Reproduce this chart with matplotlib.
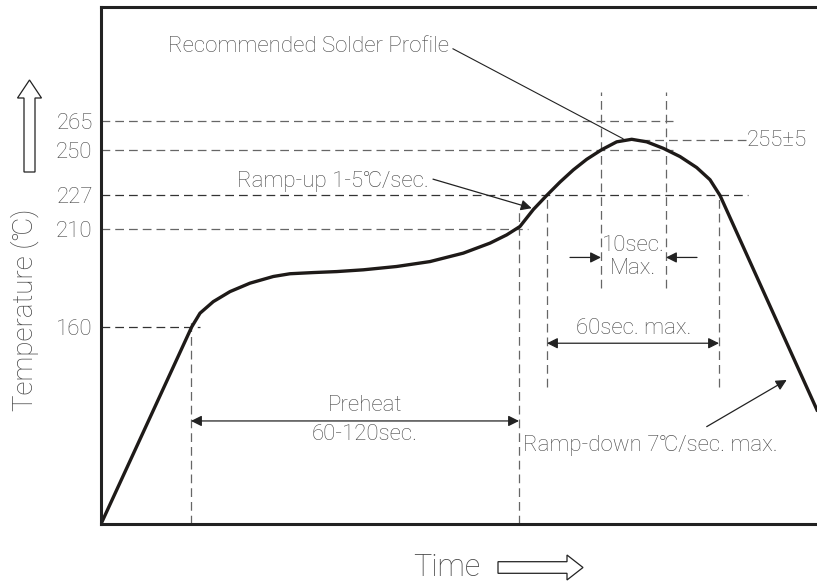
import matplotlib.pyplot as plt
import matplotlib.patches as mpatches
from matplotlib.transforms import Affine2D

plt.rcParams['font.family'] = ['Roboto', 'DejaVu Sans']

# profile curve (time in arbitrary units, temperature in degC)
time_pts = [0, 90.7, 99, 112.3, 129, 149, 172.3, 189, 212.3, 235.7, 262.3, 295.7,
            329, 362.3, 389, 405.7, 419, 432.3, 445.7, 459, 472.3, 485.7, 500.7,
            515.7, 530.7, 545.7, 562.3, 579, 595.7, 609, 619, 716]
temp_pts = [59.6, 160, 167.0, 172.9, 178.0, 182.3, 185.7, 187.1, 187.7, 188.2,
            189.1, 190.8, 193.3, 197.6, 202.7, 206.9, 211.2, 219.8, 227, 233.8,
            240, 245.4, 250.3, 254.3, 255.6, 254.3, 251.0, 246.8, 241.2, 235,
            227, 117.7]

tick_temps = [160, 210, 227, 250, 265]
# horizontal guide lines: temperature, start, end
hlines = [(265, 0, 572), (250, 0, 572), (227, 0, 647), (210, 0, 427),
          (160, 0, 99), (255, 540, 645)]
# vertical guide lines: time, bottom temp, top temp
vlines = [(90, 59.6, 164), (418, 59.6, 219.7), (446, 129.6, 227), (618, 129.6, 227),
          (500, 179.8, 279.8), (565, 179.8, 279.8)]

gray = '#484848'
fig = plt.figure(figsize=(8.17, 5.85), dpi=100)
ax = fig.add_axes([101 / 817, 61 / 585, 719 / 817, 517 / 585])
ax.set_xlim(0, 719)
ax.set_ylim(59.6, 323)

for sp in ax.spines.values():
    sp.set_linewidth(2.2)
    sp.set_color('#222222')

ax.set_xticks([])
ax.set_yticks(tick_temps)
ax.set_yticklabels([str(t) for t in tick_temps])
ax.tick_params(axis='y', length=0, pad=6, labelsize=16, labelcolor=gray)
for lab in ax.get_yticklabels():
    lab.set_fontweight('light')

for T, x0, x1 in hlines:
    c = '#333333' if T in (227, 160) else '#666666'
    ax.plot([x0, x1], [T, T], color=c, lw=0.9, ls=(0, (7, 4)))
for t, y0, y1 in vlines:
    ax.plot([t, t], [y0, y1], color='#666666', lw=0.9, ls=(0, (7, 4)))

ax.plot(time_pts, temp_pts, color='#1e1a18', lw=2.4, solid_joinstyle='round')

fs = 16
txt = dict(fontsize=fs, color=gray, fontweight='light')
ap_one = dict(arrowstyle='-|>', color='#222222', lw=0.9, mutation_scale=16,
              shrinkA=0, shrinkB=0)
ap_two = dict(arrowstyle='<|-|>', color='#222222', lw=0.9, mutation_scale=16,
              shrinkA=0, shrinkB=0)

# recommended profile leader
ax.text(207, 302.8, 'Recommended Solder Profile', ha='center', va='center', **txt)
ax.plot([352, 522], [301.7, 255.9], color='#222222', lw=0.8)

# ramp-up
ax.text(136, 234, 'Ramp-up 1-5℃/sec.', ha='left', va='center', **txt)
ax.annotate('', xy=(430.7, 220.5), xytext=(332, 235.3), arrowprops=ap_one)

# ramp-down
ax.text(422, 99.4, 'Ramp-down 7℃/sec. max.', ha='left', va='center', **txt)
ax.annotate('', xy=(685.7, 133), xytext=(605.7, 109.2), arrowprops=ap_one)

# peak
ax.text(646, 255, '255±5', ha='left', va='center', **txt)

# 10 sec
ax.annotate('', xy=(500, 195.4), xytext=(469, 195.4), arrowprops=ap_one)
ax.annotate('', xy=(565, 195.4), xytext=(596, 195.4), arrowprops=ap_one)
ax.text(532, 201.4, '10sec.', ha='center', va='center', **txt)
ax.text(532, 190, 'Max.', ha='center', va='center', **txt)

# 60 sec
ax.annotate('', xy=(446, 151.7), xytext=(618, 151.7), arrowprops=ap_two)
ax.text(532.5, 159, '60sec. max.', ha='center', va='center', **txt)

# preheat
ax.annotate('', xy=(90, 112.1), xytext=(418, 112.1), arrowprops=ap_two)
ax.text(264, 119.8, 'Preheat', ha='center', va='center', **txt)
ax.text(264, 105, '60-120sec.', ha='center', va='center', **txt)

# axis titles with hollow arrows (figure pixel coordinates, y downward)
px = Affine2D().scale(1 / 100, -1 / 100).translate(0, 5.85) + fig.dpi_scale_trans
fig.text(25, 310, 'Temperature (℃)', transform=px, rotation=90, ha='center',
         va='center', fontsize=20, color=gray, fontweight='light')
fig.text(447, 567, 'Time', transform=px, ha='center', va='center',
         fontsize=22, color=gray, fontweight='light')
fig.patches.append(mpatches.FancyArrow(29.5, 172, 0, -92, width=11, head_width=24,
                                       head_length=18, length_includes_head=True,
                                       fc='white', ec='#222222', lw=0.9,
                                       transform=px, figure=fig))
fig.patches.append(mpatches.FancyArrow(498, 567.5, 85, 0, width=11.6, head_width=25,
                                       head_length=16, length_includes_head=True,
                                       fc='white', ec='#222222', lw=0.9,
                                       transform=px, figure=fig))

fig.savefig('out.png', dpi=100)
